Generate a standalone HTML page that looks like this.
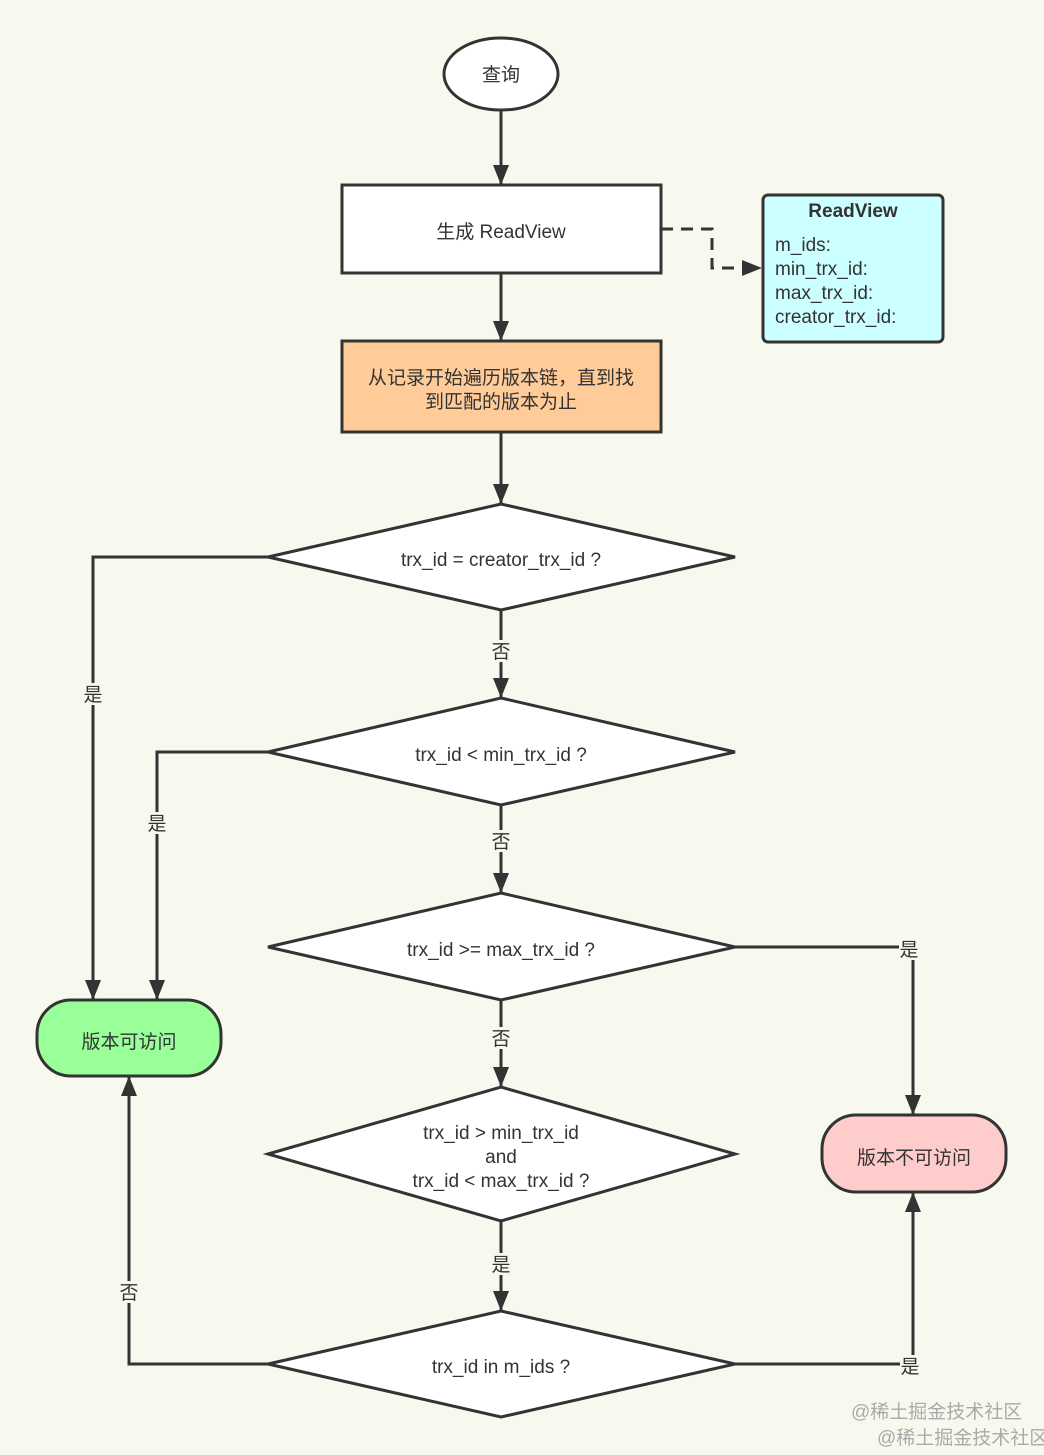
<!DOCTYPE html>
<html><head><meta charset="utf-8"><style>
html,body{margin:0;padding:0;background:#f8f9ee;}
svg{display:block;}
text{font-family:"Liberation Sans","Noto Sans CJK SC",sans-serif;fill:#333;font-size:19px;}
</style></head><body>
<svg width="1044" height="1455" viewBox="0 0 1044 1455" xmlns="http://www.w3.org/2000/svg">
<defs>
<marker id="b" viewBox="0 0 20 16" refX="20" refY="8" markerWidth="20" markerHeight="16" markerUnits="userSpaceOnUse" orient="auto"><path d="M0,0 L20,8 L0,16 z" fill="#333"/></marker>
</defs>
<rect width="1044" height="1455" fill="#f8f9ee"/>
<g stroke="#333" stroke-width="3" fill="none">
<line x1="501" y1="110" x2="501" y2="185" marker-end="url(#b)"/>
<line x1="501" y1="273" x2="501" y2="341" marker-end="url(#b)"/>
<line x1="501" y1="432" x2="501" y2="504" marker-end="url(#b)"/>
<line x1="501" y1="610" x2="501" y2="698" marker-end="url(#b)"/>
<line x1="501" y1="805" x2="501" y2="893" marker-end="url(#b)"/>
<line x1="501" y1="1000" x2="501" y2="1087" marker-end="url(#b)"/>
<line x1="501" y1="1221" x2="501" y2="1311" marker-end="url(#b)"/>
<polyline points="268,557 93,557 93,1000" marker-end="url(#b)"/>
<polyline points="268,752 157,752 157,1000" marker-end="url(#b)"/>
<polyline points="735,947 913,947 913,1115" marker-end="url(#b)"/>
<polyline points="268,1364 129,1364 129,1076" marker-end="url(#b)"/>
<polyline points="735,1364 913,1364 913,1192" marker-end="url(#b)"/>
<polyline points="661,229 712,229 712,268 762,268" stroke-dasharray="12,8" marker-end="url(#b)"/>
</g>
<g stroke="#333" stroke-width="3">
<ellipse cx="501" cy="74" rx="57" ry="36" fill="#fff"/>
<rect x="342" y="185" width="319" height="88" fill="#fff"/>
<rect x="342" y="341" width="319" height="91" fill="#ffcc99"/>
<rect x="763" y="195" width="180" height="147" rx="5" fill="#ccffff"/>
<polygon points="268,557 501,504 735,557 501,610" fill="#fff"/>
<polygon points="268,752 501,698 735,752 501,805" fill="#fff"/>
<polygon points="268,947 501,893 735,947 501,1000" fill="#fff"/>
<polygon points="268,1154 501,1087 735,1154 501,1221" fill="#fff"/>
<polygon points="268,1364 501,1311 735,1364 501,1417" fill="#fff"/>
<rect x="37" y="1000" width="184" height="76" rx="34" fill="#99ff99"/>
<rect x="822" y="1115" width="184" height="77" rx="34" fill="#ffcccc"/>
</g>
<g text-anchor="middle">
<text x="501" y="81">查询</text>
<text x="501" y="238">生成 ReadView</text>
<text x="501" y="384">从记录开始遍历版本链，直到找</text>
<text x="501" y="408">到匹配的版本为止</text>
<text x="853" y="217" font-weight="bold" font-size="20">ReadView</text>
<text x="501" y="566">trx_id =  creator_trx_id ?</text>
<text x="501" y="761">trx_id &lt; min_trx_id ?</text>
<text x="501" y="956">trx_id &gt;= max_trx_id ?</text>
<text x="501" y="1139">trx_id &gt; min_trx_id</text>
<text x="501" y="1163">and</text>
<text x="501" y="1187">trx_id &lt; max_trx_id ?</text>
<text x="501" y="1373">trx_id in m_ids ?</text>
<text x="129" y="1048">版本可访问</text>
<text x="914" y="1164">版本不可访问</text>
</g>
<g font-size="19">
<text x="775" y="251">m_ids:</text>
<text x="775" y="275">min_trx_id:</text>
<text x="775" y="299">max_trx_id:</text>
<text x="775" y="323">creator_trx_id:</text>
</g>
<g text-anchor="middle" font-size="18">
<rect x="491" y="640" width="20" height="22" fill="#f8f9ee"/><text x="501" y="658">否</text>
<rect x="491" y="830" width="20" height="22" fill="#f8f9ee"/><text x="501" y="848">否</text>
<rect x="491" y="1027" width="20" height="22" fill="#f8f9ee"/><text x="501" y="1045">否</text>
<rect x="491" y="1253" width="20" height="22" fill="#f8f9ee"/><text x="501" y="1271">是</text>
<rect x="83" y="683" width="20" height="22" fill="#f8f9ee"/><text x="93" y="701">是</text>
<rect x="147" y="812" width="20" height="22" fill="#f8f9ee"/><text x="157" y="830">是</text>
<rect x="899" y="938" width="20" height="22" fill="#f8f9ee"/><text x="909" y="956">是</text>
<rect x="119" y="1281" width="20" height="22" fill="#f8f9ee"/><text x="129" y="1299">否</text>
<rect x="900" y="1355" width="20" height="22" fill="#f8f9ee"/><text x="910" y="1373">是</text>
</g>
<text x="851" y="1418" font-size="17" style="fill:#aaa">@稀土掘金技术社区</text>
<text x="877" y="1444" font-size="17" style="fill:#aaa">@稀土掘金技术社区</text>
</svg>
</body></html>
